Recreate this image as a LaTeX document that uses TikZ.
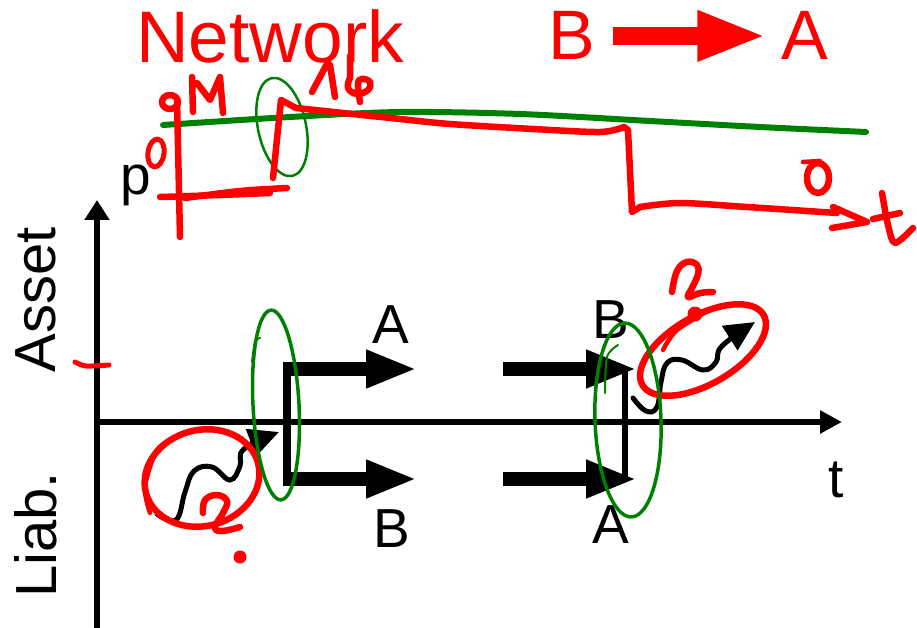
\documentclass[tikz,border=0pt]{standalone}
\usepackage{fontspec}
\setmainfont{Liberation Sans}
\usepackage{tikz}
\usetikzlibrary{arrows.meta}
\definecolor{inkred}{RGB}{255,0,0}
\definecolor{inkgreen}{RGB}{0,128,0}

\begin{document}
\begin{tikzpicture}[x=1pt,y=-1pt,
  txt/.style={font=\fontsize{55}{60}\selectfont,inner sep=0pt,anchor=base},
  rpen/.style={inkred,line width=6.5pt,line cap=round,line join=round},
  gpen/.style={inkgreen,line width=3.5pt,line cap=round},
  bar/.style={line width=14pt,-{Triangle[length=51pt,width=35pt]}},
  wavy/.style={line width=5pt,line cap=round,-{Triangle[length=30pt,width=28pt]}}]
  \useasboundingbox (0,0) rectangle (917,628);
  % axes
  \coordinate (ybot) at (97,628); \coordinate (ytop) at (97,200);
  \coordinate (orig) at (97,422); \coordinate (xend) at (842,422);
  \draw[line width=6pt,-{Triangle[length=20pt,width=24pt]}] (ybot) -- (ytop);
  \draw[line width=6pt,-{Triangle[length=22pt,width=22pt]}] (orig) -- (xend);
  \node[txt,font=\fontsize{58}{60}\selectfont,rotate=90,anchor=center] (asset) at (36,300) {Asset};
  \node[txt,font=\fontsize{58}{60}\selectfont,rotate=90,anchor=center] (liab) at (36,535) {Liab.};
  \node[txt] (tlab) at (836,497) {t};
  \node[txt] (plab) at (136,195) {p};
  \draw[rpen,line width=5pt] plot[smooth] coordinates {(75,362) (86,366) (109,365)};
  % the two swaps
  \foreach \n/\y in {u/369,d/479}{
    \coordinate (ls\n) at (283,\y); \coordinate (le\n) at (417,\y);
    \coordinate (rs\n) at (503,\y); \coordinate (re\n) at (637,\y);
    \draw[bar] (ls\n) -- (le\n); \draw[bar] (rs\n) -- (re\n);}
  \draw[line width=8pt] (287,362) -- (287,486);
  \draw[line width=6pt] (625,370) -- (625,478);
  \node[txt] (la) at (391,343) {A};
  \node[txt] (lb) at (392,547) {B};
  \node[txt] (rb) at (611,338) {B};
  \node[txt] (ra) at (611,543) {A};
  % wiggles
  \draw[wavy] plot[smooth,tension=.7] coordinates {(157,514) (176,520) (185,492) (194,471) (212,467) (230,480) (240,466) (244,449) (279,432)};
  \draw[wavy] plot[smooth,tension=.7] coordinates {(633,398) (646,411) (657,407) (661,382) (667,363) (682,360) (703,370) (716,362) (722,346) (755,322)};
  % red marks
  \draw[rpen,shift={(202,478)},rotate=15] (0,0) ellipse [x radius=58,y radius=48];
  \draw[rpen,line width=4.5pt] plot[smooth] coordinates {(150,513) (145,487) (157,450) (177,437)};
  \draw[rpen] plot[smooth,tension=.7] coordinates {(203,513) (205,500) (217,495) (227,501) (223,513) (215,527) (222,531) (240,527)};
  \fill[inkred] (240,557) circle (6.5);
  \draw[rpen,shift={(703,350)},rotate=30] (0,0) ellipse [x radius=70,y radius=34];
  \draw[rpen,line width=4.5pt] plot[smooth] coordinates {(663,350) (677,330) (713,308)};
  \draw[rpen] plot[smooth,tension=.7] coordinates {(672,292) (677,271) (687,262) (697,265) (698,274) (693,286) (688,297) (700,293) (713,292)};
  \fill[inkred] (695,314) circle (7.5);
  % green rings
  \draw[gpen,shift={(276,405)},rotate=3] (0,0) ellipse [x radius=23,y radius=95];
  \draw[gpen,line width=2pt] plot[smooth] coordinates {(252,362) (255,342) (260,338)};
  \draw[gpen,shift={(628,420)},rotate=2] (0,0) ellipse [x radius=33,y radius=97];
  \draw[gpen,line width=2pt] plot[smooth] coordinates {(605,393) (607,357) (618,345)};
  \draw[gpen,line width=2.5pt,shift={(282,127)},rotate=12] (0,0) ellipse [x radius=24,y radius=50];
  % network sketch
  \node[txt,inkred,font=\fontsize{73}{80}\selectfont] (net) at (270,63) {Network};
  \node[txt,inkred,font=\fontsize{70}{80}\selectfont] (nb) at (572,60) {B};
  \node[txt,inkred,font=\fontsize{70}{80}\selectfont] (na) at (805,60) {A};
  \draw[inkred,line width=18pt,-{Triangle[length=69pt,width=46pt]}] ([xshift=17pt]nb.east) -- ([xshift=-15pt]na.west);
  \draw[inkgreen,line width=6pt,line cap=round] plot[smooth] coordinates {(163,125) (290,117) (400,112) (520,114) (650,121) (760,127) (866,132)};
  \draw[rpen] (177,100) -- (180,237);
  \draw[rpen] (170,102) ellipse [x radius=8,y radius=7];
  \draw[rpen] (192,77) -- (193,112) (197,83) -- (210,100) -- (220,77) -- (223,113);
  \draw[rpen,line width=5pt,shift={(156,153)},rotate=-8] (0,0) ellipse [x radius=8,y radius=14];
  \draw[rpen] plot[smooth] coordinates {(160,197) (220,195) (270,193)};
  \draw[rpen] plot[smooth] coordinates {(185,198) (240,191) (287,188)};
  \draw[rpen] (312,92) -- (328,62) (330,65) -- (335,97);
  \draw[rpen] (350,56) -- (350,78) plot[smooth,tension=.7] coordinates {(350,78) (348,88) (357,94) (368,90) (370,82) (362,79) (358,84) (360,102)};
  \draw[rpen] (273,178) -- (281,100) -- (296,108);
  \draw[rpen] plot[smooth] coordinates {(296,108) (400,119) (450,124) (533,129) (600,132) (624,127)};
  \draw[rpen] (624,127) -- (628,130) -- (632,212) -- (640,207);
  \draw[rpen] plot[smooth] coordinates {(640,207) (680,203) (747,207) (837,213)};
  \draw[rpen] (833,207) -- (867,222) -- (832,228);
  \draw[rpen] (818,178) ellipse [x radius=11,y radius=15];
  \draw[rpen,line width=4.5pt] (803,162) -- (820,161);
  \draw[rpen] plot[smooth] coordinates {(882,193) (888,225) (895,243) (913,228)};
  \draw[rpen] (873,219) -- (900,213);
\end{tikzpicture}
\end{document}
